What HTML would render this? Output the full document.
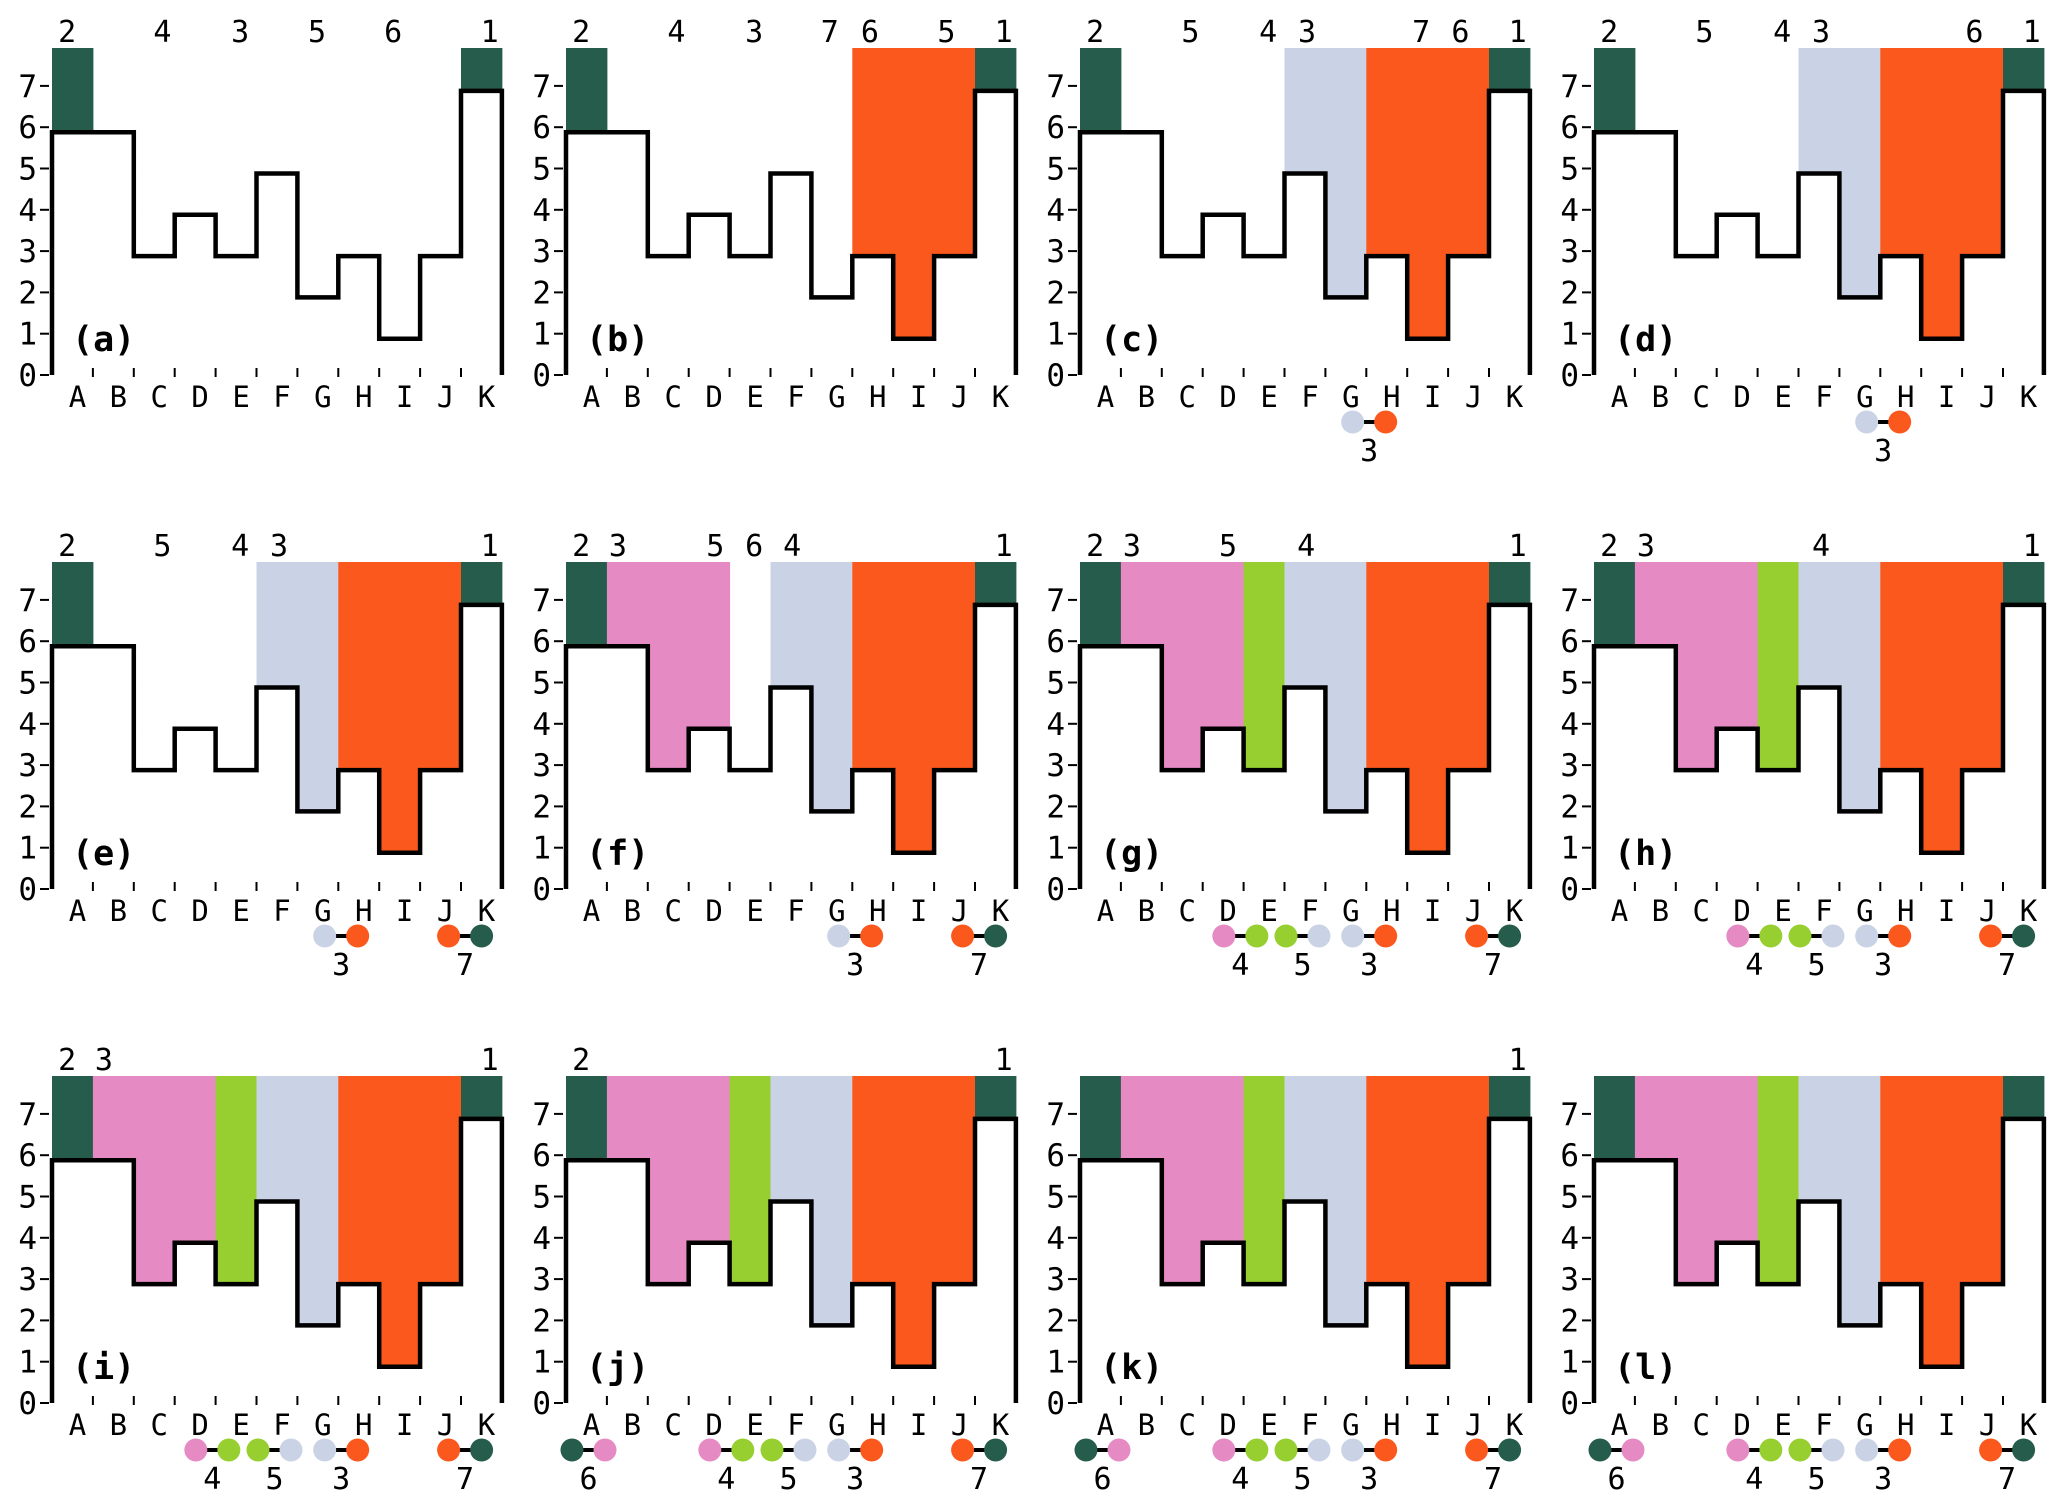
<!DOCTYPE html>
<html><head><meta charset="utf-8"><style>
html,body{margin:0;padding:0;background:#fff;}
svg{display:block;font-family:"DejaVu Sans Mono","Liberation Mono",monospace;}
</style></head><body>
<svg id="chart" width="2067" height="1507" viewBox="0 0 2067 1507" xmlns="http://www.w3.org/2000/svg"></svg>
<script>
const categories = ["A","B","C","D","E","F","G","H","I","J","K"];
const heights = [6,6,3,4,3,5,2,3,1,3,7];
const yTicks = [0,1,2,3,4,5,6,7];
const panelNames = ["a","b","c","d","e","f","g","h","i","j","k","l"];
// column fill colour keys per panel: 0 none, 1 dark green, 2 pink, 3 lime, 4 lavender, 5 orange
const fillsA = [1,0,0,0,0,0,0,0,0,0,1];
const fillsB = [1,0,0,0,0,0,0,5,5,5,1];
const fillsC = [1,0,0,0,0,4,4,5,5,5,1];
const fillsF = [1,2,2,2,0,4,4,5,5,5,1];
const fillsG = [1,2,2,2,3,4,4,5,5,5,1];
const panelFills = [fillsA,fillsB,fillsC,fillsC,fillsC,fillsF,fillsG,fillsG,fillsG,fillsG,fillsG,fillsG];
const palette = ["none","#255c4b","#e68ac3","#96cf2f","#cad3e5","#fb581e"];
// top labels: [column position, text]
const topLabels = [
 [[0.37,"2"],[2.7,"4"],[4.6,"3"],[6.48,"5"],[8.34,"6"],[10.7,"1"]],
 [[0.37,"2"],[2.7,"4"],[4.6,"3"],[6.45,"7"],[7.43,"6"],[9.3,"5"],[10.7,"1"]],
 [[0.37,"2"],[2.7,"5"],[4.6,"4"],[5.55,"3"],[8.34,"7"],[9.3,"6"],[10.7,"1"]],
 [[0.37,"2"],[2.7,"5"],[4.6,"4"],[5.55,"3"],[9.3,"6"],[10.7,"1"]],
 [[0.37,"2"],[2.7,"5"],[4.6,"4"],[5.55,"3"],[10.7,"1"]],
 [[0.37,"2"],[1.27,"3"],[3.65,"5"],[4.6,"6"],[5.53,"4"],[10.7,"1"]],
 [[0.37,"2"],[1.27,"3"],[3.62,"5"],[5.53,"4"],[10.7,"1"]],
 [[0.37,"2"],[1.27,"3"],[5.55,"4"],[10.7,"1"]],
 [[0.37,"2"],[1.27,"3"],[10.7,"1"]],
 [[0.37,"2"],[10.7,"1"]],
 [[10.7,"1"]],
 []
];
// merge pairs: [centre column position, left colour, right colour, label]
const pairAB = [0.55,1,2,"6"];
const pairDE = [3.92,2,3,"4"];
const pairEF = [5.44,3,4,"5"];
const pairGH = [7.07,4,5,"3"];
const pairJK = [10.1,5,1,"7"];
const panelPairs = [[],[],[pairGH],[pairGH],[pairGH,pairJK],[pairGH,pairJK],
 [pairDE,pairEF,pairGH,pairJK],[pairDE,pairEF,pairGH,pairJK],[pairDE,pairEF,pairGH,pairJK],
 [pairAB,pairDE,pairEF,pairGH,pairJK],[pairAB,pairDE,pairEF,pairGH,pairJK],[pairAB,pairDE,pairEF,pairGH,pairJK]];

const NS="http://www.w3.org/2000/svg";
const svg=document.getElementById("chart");
function mk(tag,attrs,parent){const e=document.createElementNS(NS,tag);for(const k in attrs)e.setAttribute(k,attrs[k]);parent.appendChild(e);return e;}
const COLW=40.9, UNIT=41.3, TOPH=327, LOFF=5;

panelNames.forEach((pn,p)=>{
  const ox=(p%4)*514, oy=Math.floor(p/4)*514;
  const x=c=>ox+52+c*COLW;
  const y=v=>oy+375-v*UNIT;
  const yl=v=>y(v)+LOFF;
  const g=mk("g",{},svg);
  
  
  panelFills[p].forEach((f,i)=>{
    if(!f) return;
    const r=mk("rect",{x:x(i),y:oy+375-TOPH,width:COLW+0.5,height:yl(heights[i])-(oy+375-TOPH),fill:palette[f]},g);
    
    
  });
  let d="M"+x(0)+","+y(0)+" V"+yl(heights[0]);
  heights.forEach((h,i)=>{d+=" H"+x(i+1);if(i<heights.length-1)d+=" V"+yl(heights[i+1]);});
  d+=" V"+y(0);
  const sl=mk("path",{d:d,fill:"none",stroke:"#000","stroke-width":4.5,"stroke-linejoin":"miter"},g);
  
  
  yTicks.forEach(t=>{
    const tk=mk("line",{x1:ox+40,x2:ox+49,y1:y(t),y2:y(t),stroke:"#000","stroke-width":2},g);
    
    
    const tl=mk("text",{x:ox+37,y:y(t)+11,"text-anchor":"end","font-size":31,fill:"#000"},g);
    tl.textContent=t;
    
    
  });
  categories.forEach((c,i)=>{
    if(i>0){
      const xt=mk("line",{x1:x(i),x2:x(i),y1:y(0)-7,y2:y(0)+2,stroke:"#000","stroke-width":2},g);
      
      
    }
    const xl=mk("text",{x:x(i+0.5)+5,y:y(0)+32,"text-anchor":"middle","font-size":29,fill:"#000"},g);
    xl.textContent=c;
    
    
  });
  topLabels[p].forEach(([pos,txt])=>{
    const tl=mk("text",{x:x(pos),y:oy+42,"text-anchor":"middle","font-size":30,fill:"#000"},g);
    tl.textContent=txt;
    
    
  });
  const pl=mk("text",{x:ox+72,y:oy+351,"font-size":35,"font-weight":"bold",fill:"#000"},g);
  pl.textContent="("+pn+")";
  
  
  panelPairs[p].forEach(([pos,c1,c2,lab])=>{
    const cx=x(pos), cy=y(0)+47;
    const cn=mk("line",{x1:cx-16,x2:cx+16,y1:cy,y2:cy,stroke:"#000","stroke-width":4},g);
    
    
    const d1=mk("circle",{cx:cx-16.5,cy:cy,r:11.5,fill:palette[c1]},g);
    
    
    const d2=mk("circle",{cx:cx+16.5,cy:cy,r:11.5,fill:palette[c2]},g);
    
    
    const ml=mk("text",{x:cx,y:cy+39,"text-anchor":"middle","font-size":30,fill:"#000"},g);
    ml.textContent=lab;
    
    
  });
});
</script>
</body></html>
